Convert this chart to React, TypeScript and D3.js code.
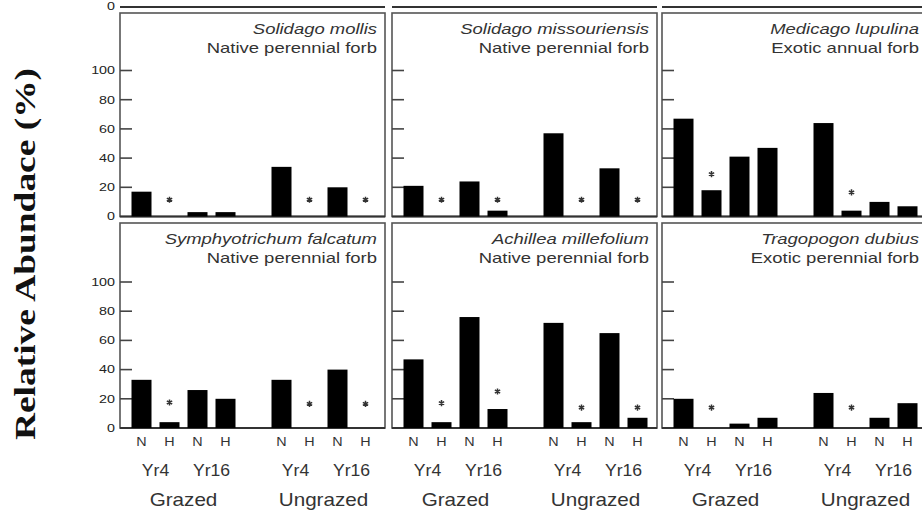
import React from "react";
import * as d3 from "d3";

// ---------- data ----------
const species = [
  "Solidago mollis",
  "Solidago missouriensis",
  "Medicago lupulina",
  "Symphyotrichum falcatum",
  "Achillea millefolium",
  "Tragopogon dubius",
];
const lifeForms = [
  "Native perennial forb",
  "Native perennial forb",
  "Exotic annual forb",
  "Native perennial forb",
  "Native perennial forb",
  "Exotic perennial forb",
];
// order: Grazed Yr4 N, Grazed Yr4 H, Grazed Yr16 N, Grazed Yr16 H, Ungrazed Yr4 N, Ungrazed Yr4 H, Ungrazed Yr16 N, Ungrazed Yr16 H
const solidagoMollis = [17, 0, 3, 3, 34, 0, 20, 0];
const solidagoMissouriensis = [21, 0, 24, 4, 57, 0, 33, 0];
const medicagoLupulina = [67, 18, 41, 47, 64, 4, 10, 7];
const symphyotrichumFalcatum = [33, 4, 26, 20, 33, 0, 40, 0];
const achilleaMillefolium = [47, 4, 76, 13, 72, 4, 65, 7];
const tragopogonDubius = [20, 0, 3, 7, 24, 0, 7, 17];
// significance markers (height in % where the asterisk sits; null = none)
const starsMollis = [null, 11.5, null, null, null, 11.5, null, 11.5];
const starsMissouriensis = [null, 11.5, null, 11.5, null, 11.5, null, 11.5];
const starsMedicago = [null, 29, null, null, null, 16.5, null, null];
const starsFalcatum = [null, 17.5, null, null, null, 16.5, null, 16.5];
const starsAchillea = [null, 17, null, 25, null, 14, null, 14];
const starsTragopogon = [null, 14, null, null, null, 14, null, null];

const slots = ["G4N", "G4H", "G16N", "G16H", "gap", "U4N", "U4H", "U16N", "U16H"];
const barSlots = ["G4N", "G4H", "G16N", "G16H", "U4N", "U4H", "U16N", "U16H"];
const treatmentLabels = ["N", "H", "N", "H", "N", "H", "N", "H"];
const yearLabels = ["Yr4", "Yr16", "Yr4", "Yr16"];
const grazingLabels = ["Grazed", "Ungrazed"];
const yTicks = [0, 20, 40, 60, 80, 100];

const panelValues = [
  solidagoMollis,
  solidagoMissouriensis,
  medicagoLupulina,
  symphyotrichumFalcatum,
  achilleaMillefolium,
  tragopogonDubius,
];
const panelStars = [
  starsMollis,
  starsMissouriensis,
  starsMedicago,
  starsFalcatum,
  starsAchillea,
  starsTragopogon,
];

// ---------- layout ----------
const W = 922;
const H = 514;
const colLefts = [120, 392, 662];
const panelW = 265;
const rowTops = [13, 223];
const rowBottoms = [216.5, 428];
const px100 = 146;
const barW = 20;
const FONT = "'Liberation Sans', Arial, Helvetica, sans-serif";

function SText({ x, y, sx, size, anchor = "middle", italic = false, fill = "#222", baseline, children }: any) {
  return (
    <text
      transform={`translate(${x},${y}) scale(${sx},1)`}
      fontFamily={FONT}
      fontSize={size}
      fontStyle={italic ? "italic" : "normal"}
      textAnchor={anchor}
      dominantBaseline={baseline}
      fill={fill}
    >
      {children}
    </text>
  );
}

const starPath = d3.symbol(d3.symbolAsterisk, 26)() as string;

function Panel({ idx }: { idx: number }) {
  const row = Math.floor(idx / 3);
  const col = idx % 3;
  const left = colLefts[col];
  const top = rowTops[row];
  const bottom = rowBottoms[row];
  const y = d3.scaleLinear().domain([0, 100]).range([bottom, bottom - px100]);
  const x = d3.scalePoint<string>().domain(slots).range([left + 21.5, left + 245.5]);
  const vals = panelValues[idx];
  const stars = panelStars[idx];
  const right = left + panelW;
  return (
    <g>
      <rect x={left} y={top} width={panelW} height={bottom - top} fill="#fff" stroke="#555" strokeWidth={1.6} />
      <line x1={left} x2={right} y1={bottom} y2={bottom} stroke="#333" strokeWidth={2} />
      {yTicks.filter((t) => t > 0).map((t) => (
        <line key={t} x1={left} x2={left + 12} y1={y(t)} y2={y(t)} stroke="#444" strokeWidth={1.6} />
      ))}
      {col === 0 &&
        yTicks.map((t) => (
          <SText key={"l" + t} x={left - 5} y={y(t)} sx={1.3} size={11} anchor="end" baseline="central">
            {t}
          </SText>
        ))}
      {vals.map((v, i) => {
        const cx = x(barSlots[i]) as number;
        return <rect key={i} x={cx - barW / 2} y={y(v)} width={barW} height={y(0) - y(v)} fill="#000" />;
      })}
      {stars.map((s, i) =>
        s == null ? null : (
          <path
            key={"s" + i}
            d={starPath}
            transform={`translate(${x(barSlots[i])},${y(s)})`}
            stroke="#333"
            strokeWidth={1.5}
            fill="none"
          />
        )
      )}
      <SText x={right - 8} y={top + 20.5} sx={1.32} size={14} anchor="end" italic fill="#333">
        {species[idx]}
      </SText>
      <SText x={right - 8} y={top + 40} sx={1.32} size={14} anchor="end" fill="#333">
        {lifeForms[idx]}
      </SText>
      {row === 1 && (
        <g>
          {treatmentLabels.map((t, i) => (
            <SText key={"t" + i} x={x(barSlots[i])} y={446} sx={1.15} size={12.5} fill="#333">
              {t}
            </SText>
          ))}
          {yearLabels.map((t, i) => {
            const a = x(barSlots[i * 2]) as number;
            const b = x(barSlots[i * 2 + 1]) as number;
            return (
              <SText key={"y" + i} x={(a + b) / 2} y={476} sx={1.1} size={16} fill="#333">
                {t}
              </SText>
            );
          })}
          {grazingLabels.map((t, i) => {
            const a = x(barSlots[i * 4]) as number;
            const b = x(barSlots[i * 4 + 3]) as number;
            return (
              <SText key={"g" + i} x={(a + b) / 2} y={506} sx={1.18} size={17.5} fill="#333">
                {t}
              </SText>
            );
          })}
        </g>
      )}
    </g>
  );
}

export default function App() {
  return (
    <svg width={W} height={H} style={{ position: "absolute", left: 0, top: 0, background: "#fff" }}>
      <rect x={0} y={0} width={W} height={H} fill="#fff" />
      {/* bottom edge of the (cropped) row above */}
      {colLefts.map((l, i) => (
        <line key={"c" + i} x1={l} x2={l + panelW} y1={7} y2={7} stroke="#333" strokeWidth={2} />
      ))}
      <SText x={115} y={6} sx={1.3} size={11} anchor="end" baseline="central">
        0
      </SText>
      {panelValues.map((_, i) => (
        <Panel key={i} idx={i} />
      ))}
      <text
        transform="translate(35,254) rotate(-90)"
        fontFamily="'Liberation Serif', 'Times New Roman', serif"
        fontWeight="bold"
        fontSize={29}
        textAnchor="middle"
        textLength={372}
        lengthAdjust="spacingAndGlyphs"
        fill="#111"
      >
        Relative Abundace (%)
      </text>
    </svg>
  );
}
